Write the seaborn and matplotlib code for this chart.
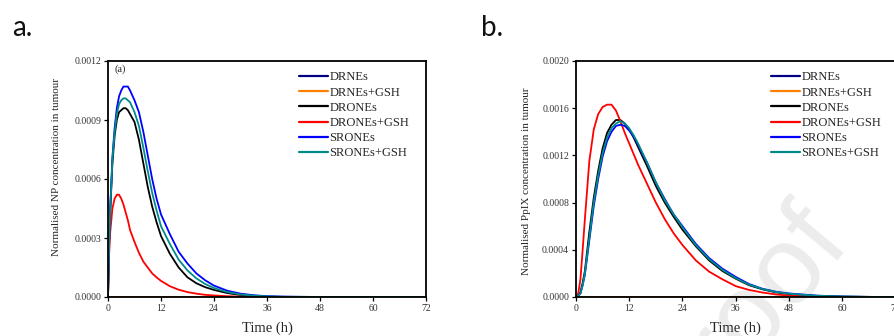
import numpy as np
import pandas as pd
import matplotlib
matplotlib.use("Agg")
import matplotlib.pyplot as plt
import seaborn as sns

# ---------------- data ----------------
series_names = ["DRNEs", "DRNEs+GSH", "DRONEs", "DRONEs+GSH", "SRONEs", "SRONEs+GSH"]
series_colors = ["#000080", "#FF8000", "#000000", "#FF0000", "#0000FF", "#008B8B"]

# Panel a: normalised NP concentration in tumour
time_a = [0, 0.25, 0.5, 1, 1.5, 2, 2.5, 3, 3.5, 4, 4.5, 5, 6, 7, 8, 9, 10, 11, 12,
          14, 16, 18, 20, 22, 24, 27, 30, 33, 36, 40, 48, 60, 72]
a_drnes = [0] * len(time_a)
a_drnes_gsh = [0] * len(time_a)
a_drones = [0, 0.00026, 0.00043, 0.00068, 0.00082, 0.00090, 0.00094, 0.00095, 0.00096, 0.00096,
            0.00095, 0.00093, 0.00089, 0.00080, 0.00068, 0.00056, 0.00046, 0.00038, 0.00031,
            0.00022, 0.00015, 0.00010, 0.000070, 0.000050, 0.000036, 0.000020, 0.000010,
            0.000005, 0.000002, 0, 0, 0, 0]
a_drones_gsh = [0, 0.00022, 0.00033, 0.00045, 0.00050, 0.00052, 0.00052, 0.00050, 0.00047, 0.00043,
                0.00039, 0.00034, 0.00028, 0.000225, 0.00018, 0.00015, 0.00012, 0.00010, 0.000082,
                0.000055, 0.000037, 0.000025, 0.000017, 0.000011, 0.000008, 0.000004, 0.000002,
                0.000001, 0, 0, 0, 0, 0]
a_srones = [0, 0.00028, 0.00045, 0.00071, 0.00086, 0.00096, 0.00102, 0.00105, 0.00107, 0.00107,
            0.00107, 0.00105, 0.00100, 0.00094, 0.00084, 0.00072, 0.00060, 0.00050, 0.00042,
            0.00032, 0.00023, 0.00017, 0.000120, 0.000085, 0.000058, 0.000032, 0.000017,
            0.000009, 0.000004, 0.000002, 0, 0, 0]
a_srones_gsh = [0, 0.00027, 0.00044, 0.00070, 0.00084, 0.00093, 0.00098, 0.00100, 0.00101, 0.00101,
                0.00100, 0.00099, 0.00094, 0.00087, 0.00076, 0.00064, 0.00053, 0.00044, 0.00036,
                0.00027, 0.00019, 0.000135, 0.000095, 0.000066, 0.000046, 0.000025, 0.000013,
                0.000007, 0.000003, 0.000001, 0, 0, 0]

# Panel b: normalised PpIX concentration in tumour
time_b = [0, 0.5, 1, 1.5, 2, 3, 4, 5, 6, 7, 8, 9, 10, 11, 12, 13, 14, 15, 16, 18, 20, 22,
          24, 27, 30, 33, 36, 39, 42, 45, 48, 54, 60, 66, 72]
b_drnes = [0] * len(time_b)
b_drnes_gsh = [0] * len(time_b)
b_drones = [0, 0.00001, 0.00004, 0.00012, 0.00022, 0.00055, 0.00084, 0.00107, 0.00126, 0.00139,
            0.00146, 0.00150, 0.00150, 0.00147, 0.00142, 0.00135, 0.00127, 0.00119, 0.00111,
            0.00094, 0.00080, 0.00068, 0.00057, 0.00043, 0.00031, 0.00022, 0.000155, 0.00010,
            0.000065, 0.000040, 0.000025, 0.000010, 0.000003, 0.000001, 0]
b_drones_gsh = [0, 0.00003, 0.00015, 0.00040, 0.00066, 0.00115, 0.00142, 0.00155, 0.00161, 0.00163,
                0.00163, 0.00158, 0.00149, 0.00139, 0.00130, 0.00121, 0.00112, 0.00104, 0.00096,
                0.00080, 0.00066, 0.00054, 0.00044, 0.00031, 0.000215, 0.00015, 0.000092,
                0.000060, 0.000038, 0.000022, 0.000012, 0.000004, 0.000001, 0, 0]
b_srones = [0, 0.00001, 0.00003, 0.00010, 0.00019, 0.00048, 0.00077, 0.00100, 0.00119, 0.00132,
            0.00140, 0.00145, 0.00146, 0.00145, 0.00141, 0.00136, 0.00129, 0.00121, 0.00114,
            0.00097, 0.00083, 0.00070, 0.00060, 0.00045, 0.00033, 0.00024, 0.00017, 0.00011,
            0.000070, 0.000045, 0.000030, 0.000012, 0.000004, 0.000001, 0]
b_srones_gsh = [0, 0.00001, 0.00003, 0.00010, 0.00020, 0.00050, 0.00080, 0.00103, 0.00122, 0.00135,
                0.00143, 0.00147, 0.00149, 0.00147, 0.00143, 0.00137, 0.00130, 0.00122, 0.00114,
                0.00097, 0.00082, 0.00070, 0.00059, 0.00044, 0.00032, 0.00023, 0.00016, 0.000105,
                0.000068, 0.000043, 0.000028, 0.000011, 0.000004, 0.000001, 0]

x_ticks = [0, 12, 24, 36, 48, 60, 72]
y_ticks_a = [0.0, 0.0003, 0.0006, 0.0009, 0.0012]
y_ticks_b = [0.0, 0.0004, 0.0008, 0.0012, 0.0016, 0.0020]


def long_df(t, cols):
    frames = []
    for name, vals in zip(series_names, cols):
        frames.append(pd.DataFrame({"Time": t, "Conc": vals, "Formulation": name}))
    return pd.concat(frames, ignore_index=True)


df_a = long_df(time_a, [a_drnes, a_drnes_gsh, a_drones, a_drones_gsh, a_srones, a_srones_gsh])
df_b = long_df(time_b, [b_drnes, b_drnes_gsh, b_drones, b_drones_gsh, b_srones, b_srones_gsh])

# ---------------- style ----------------
sns.set_theme(style="white")
plt.rcParams["font.family"] = ["Liberation Serif", "DejaVu Serif"]
palette = dict(zip(series_names, series_colors))

fig = plt.figure(figsize=(8.95, 3.36), dpi=100)
W, H = 895.0, 336.0


def px_axes(l, r, t, b):
    return fig.add_axes([l / W, 1 - b / H, (r - l) / W, (b - t) / H])


ax_a = px_axes(108, 426, 61, 297)
ax_b = px_axes(576, 895.5, 61, 297)

# watermark behind everything (only the tail "...oof" is visible in the figure)
fig.text(852 / W, 1 - 244 / H, "Journal Pre-proof", fontsize=80, color="#ececec",
         rotation=50, rotation_mode="anchor", ha="right", va="baseline",
         family=["Liberation Sans", "DejaVu Sans"], zorder=-5)


def style_axes(ax, df, yticks, ylabel, legend_x, label_xy):
    ax.patch.set_alpha(0)
    sns.lineplot(data=df, x="Time", y="Conc", hue="Formulation", hue_order=series_names,
                 palette=palette, estimator=None, linewidth=1.3, ax=ax, legend=True)
    ax.set_xlim(0, 72)
    ax.set_ylim(0, yticks[-1])
    ax.set_xticks(x_ticks)
    ax.set_yticks(yticks)
    ax.set_xticklabels([str(v) for v in x_ticks])
    ax.set_yticklabels([f"{v:.4f}" for v in yticks])
    ax.tick_params(axis="both", which="major", direction="out", length=3, width=0.9,
                   labelsize=7, pad=2, colors="black", bottom=True, left=True)
    for lab in ax.get_xticklabels() + ax.get_yticklabels():
        lab.set_color("#333333")
    for s in ax.spines.values():
        s.set_color("black")
        s.set_linewidth(1.3)
    ax.set_xlabel("Time (h)", fontsize=10.5, labelpad=6.5)
    ax.set_ylabel(ylabel, fontsize=8)
    ax.yaxis.set_label_coords(*label_xy)
    sns.move_legend(ax, loc="upper left", bbox_to_anchor=(legend_x, 0.956), frameon=False,
                    title=None, fontsize=9, handlelength=2.35, handletextpad=0.1,
                    labelspacing=0.255, borderaxespad=0, borderpad=0)
    leg = ax.get_legend()
    for ln in leg.get_lines():
        ln.set_linewidth(1.6)


style_axes(ax_a, df_a, y_ticks_a, "Normalised NP concentration in tumour", 0.60, (-0.148, 0.551))
style_axes(ax_b, df_b, y_ticks_b, "Normalised PpIX concentration in tumour", 0.61, (-0.141, 0.49))

ax_a.text(0.02, 0.985, "(a)", transform=ax_a.transAxes, fontsize=7.5, va="top", ha="left")

fig.text(12 / W, 1 - 36 / H, "a.", fontsize=20, family=["Lato", "DejaVu Sans"], color="#111111")
fig.text(481 / W, 1 - 36 / H, "b.", fontsize=20, family=["Lato", "DejaVu Sans"], color="#111111")

fig.savefig("out.png", dpi=100)
